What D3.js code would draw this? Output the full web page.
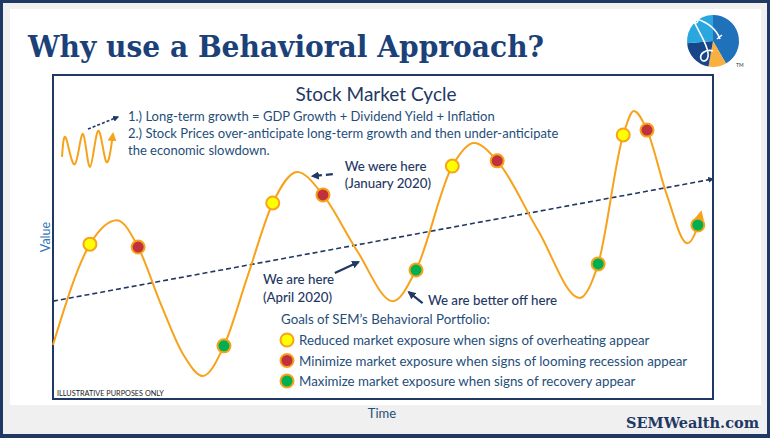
<!DOCTYPE html>
<html>
<head>
<meta charset="utf-8">
<script src="https://cdn.jsdelivr.net/npm/d3@7"></script>
<style>
  body { margin: 0; background: #f0f0f0; }
  svg { display: block; }
  text { font-family: Lato, "Open Sans", sans-serif; }
</style>
</head>
<body>
<svg id="chart"></svg>
<script>
// Data (arbitrary units: time 0-100, value 0-100)
const cycleTime  = [0, 5.6, 9.7, 12.9, 16.2, 19.8, 22.7, 25.9, 29.5, 33.3, 37.0, 40.9, 46.0, 51.5, 55.0, 60.5, 63.8, 67.3, 73.5, 79.8, 82.6, 86.4, 88.0, 90.0, 93.0, 96.1, 97.7, 98.2];
const cycleValue = [16.7, 47.8, 55.2, 46.9, 30.0, 13.5, 7.1, 16.4, 38.0, 60.5, 70.1, 63.0, 46.0, 30.2, 39.8, 71.9, 79.0, 73.5, 52.0, 31.2, 41.7, 81.5, 88.9, 83.0, 63.0, 48.1, 53.7, 57.7];
// signal type for each cycle point ("" = plain curve point)
const cycleSignal = ["", "yellow", "", "red", "", "", "", "green", "", "yellow", "", "red", "", "", "green", "yellow", "", "red", "", "", "green", "yellow", "", "red", "", "", "green", ""];

const trendTime  = [0, 100];
const trendValue = [30.2, 67.9];

const legendLabels = [
  "Reduced market exposure when signs of overheating appear",
  "Minimize market exposure when signs of looming recession appear",
  "Maximize market exposure when signs of recovery appear"
];
const legendKeys = ["yellow", "red", "green"];

const notes = [
  "1.) Long-term growth = GDP Growth + Dividend Yield + Inflation",
  "2.) Stock Prices over-anticipate long-term growth and then under-anticipate",
  "the economic slowdown."
];

// Chart Dimensions
const width = 770;
const height = 438;
const plot = { left: 53, right: 713, top: 75, bottom: 399 };

const navy = "#1f3864";
const blue = "#1f4e79";
const orange = "#f7a21b";
const fills = { yellow: "#ffff00", red: "#c0313d", green: "#00b050" };

const svg = d3.select("#chart").attr("width", width).attr("height", height);

const x = d3.scaleLinear().domain([0, 100]).range([plot.left, plot.right]);
const y = d3.scaleLinear().domain([0, 100]).range([plot.bottom, plot.top]);

// Page frame
svg.append("rect").attr("x", 1.5).attr("y", 1.5).attr("width", width - 3).attr("height", height - 3)
  .attr("fill", "#f0f0f0").attr("stroke", "#1f3864").attr("stroke-width", 3);
svg.append("rect").attr("x", 0).attr("y", 434).attr("width", width).attr("height", 4).attr("fill", "#1f3864");
svg.append("rect").attr("x", 10).attr("y", 9).attr("width", 751).attr("height", 396).attr("fill", "#fff");

// Title
svg.append("text")
  .attr("x", 28).attr("y", 57)
  .attr("textLength", 516).attr("lengthAdjust", "spacingAndGlyphs")
  .style("font-family", "'DejaVu Serif', serif")
  .style("font-weight", "bold")
  .style("font-size", "30px")
  .attr("fill", "#1b4178")
  .text("Why use a Behavioral Approach?");

// Logo
const logo = svg.append("g").attr("transform", "translate(713,41)");
const logoPie = d3.pie().sort(null).value((d) => d.v).startAngle(0);
const logoArc = d3.arc().innerRadius(0).outerRadius(26);
const logoSlices = [
  { v: 150, c: "#1f72ba" },
  { v: 40, c: "#f9b040" },
  { v: 75, c: "#17468a" },
  { v: 95, c: "#2aa7df" }
];
logo.selectAll("path").data(logoPie(logoSlices)).enter().append("path")
  .attr("d", logoArc).attr("fill", (d) => d.data.c);
logo.append("path")
  .attr("d", "M-19,-20 C-14,-8 -6,2 -5,12 C-4,20 -10,22 -12,18 C-14,12 -6,8 0,10 M-16,-22 C-4,-18 4,-10 7,-2 M4,-2 L9,-6")
  .attr("fill", "none").attr("stroke", "#fff").attr("stroke-width", 1.6);
logo.append("circle").attr("cx", -18).attr("cy", -21).attr("r", 3).attr("fill", "none").attr("stroke", "#fff").attr("stroke-width", 1.4);
logo.append("text").attr("x", 23).attr("y", 26).style("font-size", "5px").attr("fill", "#333").text("TM");

// Plot frame
svg.append("rect")
  .attr("x", plot.left).attr("y", plot.top)
  .attr("width", plot.right - plot.left).attr("height", plot.bottom - plot.top)
  .attr("fill", "#fff").attr("stroke", navy).attr("stroke-width", 2);

// Arrow markers
const defs = svg.append("defs");
function marker(id, color, size) {
  defs.append("marker").attr("id", id).attr("viewBox", "0 0 10 10")
    .attr("refX", 8).attr("refY", 5).attr("markerWidth", size).attr("markerHeight", size)
    .attr("orient", "auto").attr("markerUnits", "userSpaceOnUse")
    .append("path").attr("d", "M0,0 L10,5 L0,10 Z").attr("fill", color);
}
marker("arrNavy", navy, 8);
marker("arrSmall", navy, 6);
marker("arrOrange", orange, 9);

// Chart title
svg.append("text").attr("x", 376).attr("y", 101).attr("text-anchor", "middle")
  .style("font-size", "19px").attr("fill", navy).text("Stock Market Cycle");

// Notes
svg.selectAll(".note").data(notes).enter().append("text")
  .attr("class", "note")
  .attr("x", 128).attr("y", (d, i) => 121 + i * 17)
  .style("font-size", "13px").attr("fill", blue).text((d) => d);

// Icon: small growing wave
const iconWave = [[0, 0], [4, 13], [13, -5], [21, 16], [28, -7], [36, 18], [44, -3], [51, 16]];
const iconX = d3.scaleLinear().domain([0, 51]).range([62, 113]);
const iconY = d3.scaleLinear().domain([-7, 18]).range([167, 131]);
svg.append("path")
  .datum(iconWave)
  .attr("d", d3.line().x((d) => iconX(d[0])).y((d) => iconY(d[1])).curve(d3.curveNatural))
  .attr("fill", "none").attr("stroke", orange).attr("stroke-width", 2)
  .attr("marker-end", "url(#arrOrange)");
svg.append("line").attr("x1", 88).attr("y1", 129).attr("x2", 118).attr("y2", 117)
  .attr("stroke", navy).attr("stroke-width", 1.6).attr("stroke-dasharray", "3,2")
  .attr("marker-end", "url(#arrSmall)");

// Axis titles
svg.append("text").attr("transform", "translate(50,237) rotate(-90)").attr("text-anchor", "middle")
  .style("font-size", "12.5px").attr("fill", "#2e75b6").text("Value");
svg.append("text").attr("x", 382).attr("y", 418).attr("text-anchor", "middle")
  .style("font-size", "13px").attr("fill", blue).text("Time");
svg.append("text").attr("x", 57).attr("y", 396)
  .style("font-size", "7.3px").attr("fill", "#222").text("ILLUSTRATIVE PURPOSES ONLY");

// Trend line
const cycleData = cycleTime.map((t, i) => ({ t, v: cycleValue[i], s: cycleSignal[i] }));
svg.append("path")
  .datum(trendTime.map((t, i) => ({ t, v: trendValue[i] })))
  .attr("d", d3.line().x((d) => x(d.t)).y((d) => y(d.v)))
  .attr("fill", "none").attr("stroke", navy).attr("stroke-width", 1.6)
  .attr("stroke-dasharray", "5,3").attr("marker-end", "url(#arrSmall)");

// Cycle curve
svg.append("path")
  .datum(cycleData)
  .attr("d", d3.line().x((d) => x(d.t)).y((d) => y(d.v)).curve(d3.curveMonotoneX))
  .attr("fill", "none").attr("stroke", orange).attr("stroke-width", 2)
  .attr("marker-end", "url(#arrOrange)");

// Signal dots
svg.selectAll(".dot").data(cycleData.filter((d) => d.s)).enter().append("circle")
  .attr("class", "dot")
  .attr("cx", (d) => x(d.t)).attr("cy", (d) => y(d.v)).attr("r", 6.5)
  .attr("fill", (d) => fills[d.s]).attr("stroke", orange).attr("stroke-width", 2);

// Annotations (time/value units)
const annoArrows = [
  { t0: 42.4, v0: 69.4, t1: 39.3, v1: 68.8, dash: "7,4" },
  { t0: 42.7, v0: 38.9, t1: 46.3, v1: 42.3, dash: null },
  { t0: 56.0, v0: 29.6, t1: 53.9, v1: 33.0, dash: null }
];
svg.selectAll(".anno-arrow").data(annoArrows).enter().append("line")
  .attr("class", "anno-arrow")
  .attr("x1", (d) => x(d.t0)).attr("y1", (d) => y(d.v0))
  .attr("x2", (d) => x(d.t1)).attr("y2", (d) => y(d.v1))
  .attr("stroke", navy).attr("stroke-width", 2.2)
  .attr("stroke-dasharray", (d) => d.dash)
  .attr("marker-end", "url(#arrNavy)");

const annoText = [
  { t: 44.2, v: 70.4, text: "We were here" },
  { t: 44.2, v: 65.2, text: "(January 2020)" },
  { t: 31.8, v: 35.5, text: "We are here" },
  { t: 31.8, v: 30.0, text: "(April 2020)" },
  { t: 56.8, v: 29.0, text: "We are better off here" }
];
svg.selectAll(".anno").data(annoText).enter().append("text")
  .attr("class", "anno")
  .attr("x", (d) => x(d.t)).attr("y", (d) => y(d.v))
  .style("font-size", "13.3px").style("font-weight", 500).attr("fill", navy)
  .text((d) => d.text);

// Legend
svg.append("text").attr("x", 281).attr("y", 324)
  .style("font-size", "13.3px").attr("fill", blue).text("Goals of SEM\u2019s Behavioral Portfolio:");
const legend = svg.selectAll(".legend-item").data(legendLabels).enter().append("g")
  .attr("class", "legend-item")
  .attr("transform", (d, i) => `translate(287,${340 + i * 20.5})`);
legend.append("circle").attr("r", 6.5)
  .attr("fill", (d, i) => fills[legendKeys[i]]).attr("stroke", orange).attr("stroke-width", 2);
legend.append("text").attr("x", 12).attr("y", 5)
  .style("font-size", "13.3px").attr("fill", blue).text((d) => d);

// Footer brand
svg.append("text").attr("x", 759).attr("y", 428).attr("text-anchor", "end")
  .style("font-family", "'DejaVu Serif', serif").style("font-weight", "bold")
  .style("font-size", "14.5px").attr("fill", navy).text("SEMWealth.com");
</script>
</body>
</html>
